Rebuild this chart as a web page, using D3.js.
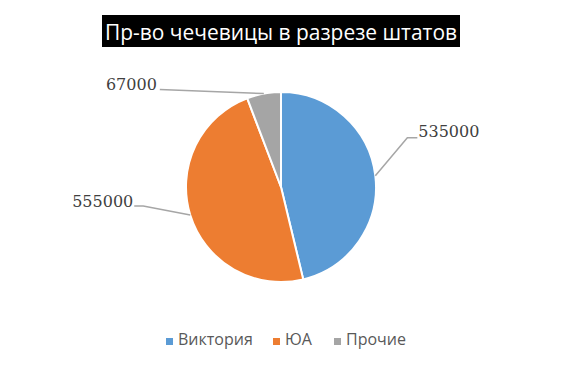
<!DOCTYPE html>
<html><head><meta charset="utf-8">
<script src="https://cdn.jsdelivr.net/npm/d3@7"></script>
<style>html,body{margin:0;padding:0;background:#fff;}</style>
</head><body>
<svg id="c" width="562" height="372"></svg>
<script>
const categories = ["Виктория", "ЮА", "Прочие"];
const values = [535000, 555000, 67000];
const colors = ["#5B9BD5", "#ED7D31", "#A5A5A5"];
const title = "Пр-во чечевицы в разрезе штатов";

const svg = d3.select("#c");
const cx = 281, cy = 187, R = 95;

// title
svg.append("rect").attr("x", 102).attr("y", 15).attr("width", 358).attr("height", 32).attr("fill", "#000");
svg.append("text").attr("x", 281).attr("y", 40).attr("text-anchor", "middle")
  .attr("font-family", "'Open Sans', sans-serif").attr("font-size", 21.5).attr("fill", "#fff")
  .attr("textLength", 352).attr("lengthAdjust", "spacingAndGlyphs").text(title);

const pie = d3.pie().sort(null).value(d => d)(values);
const arc = d3.arc().innerRadius(0).outerRadius(R);
const g = svg.append("g").attr("transform", `translate(${cx},${cy})`);
g.selectAll("path").data(pie).join("path")
  .attr("d", arc).attr("fill", (d, i) => colors[i])
  .attr("stroke", "#fff").attr("stroke-width", 2).attr("stroke-linejoin", "round");

// labels with leader lines
const labelLayout = [
  {dx: [32, 42], dy: [-38, -38], anchor: "start", tx: 43, ty: -45},
  {dx: [-47, -56], dy: [-9, -9], anchor: "end", tx: -57, ty: -14},
  {dx: [-104, -104], dy: [-4, -4], anchor: "end", tx: -107, ty: -9}
];
pie.forEach((d, i) => {
  const a = (d.startAngle + d.endAngle) / 2;
  const x0 = Math.sin(a) * R, y0 = -Math.cos(a) * R;
  const L = labelLayout[i];
  const pts = [[x0, y0], [x0 + L.dx[0], y0 + L.dy[0]], [x0 + L.dx[1], y0 + L.dy[1]]];
  g.append("path").attr("d", d3.line()(pts)).attr("fill", "none")
    .attr("stroke", "#A6A6A6").attr("stroke-width", 1.5);
  g.append("text").attr("x", x0 + L.tx).attr("y", y0 + L.ty).attr("dy", "0.36em")
    .attr("text-anchor", L.anchor)
    .attr("font-family", "'DejaVu Serif', serif").attr("font-size", 16).attr("fill", "#404040")
    .text(values[i]);
});

// legend
const legX = [166, 273, 334];
categories.forEach((c, i) => {
  svg.append("rect").attr("x", legX[i]).attr("y", 338).attr("width", 7).attr("height", 7).attr("fill", colors[i]);
  svg.append("text").attr("x", legX[i] + 12).attr("y", 345)
    .attr("font-family", "'Open Sans', sans-serif").attr("font-size", 16).attr("fill", "#595959").text(c);
});
</script>
</body></html>
